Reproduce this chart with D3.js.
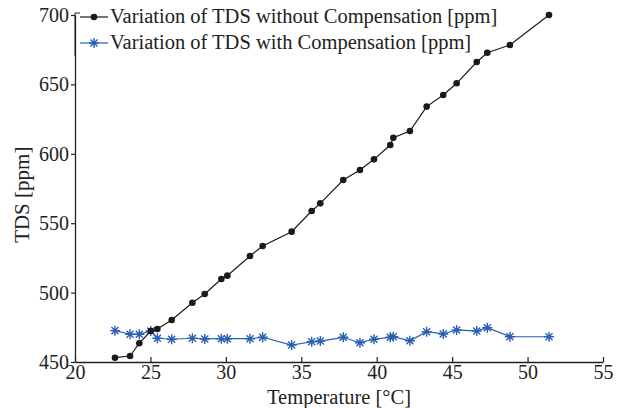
<!DOCTYPE html>
<html>
<head>
<meta charset="utf-8">
<script src="https://cdn.jsdelivr.net/npm/d3@7"></script>
<style>
  body { margin: 0; background: #fff; }
  svg text { font-family: "Liberation Serif", "DejaVu Serif", serif; fill: #222; }
  .line { fill: none; stroke-width: 1.2; }
</style>
</head>
<body>
<div class="container"></div>
<script>
var WIDTH = 623, HEIGHT = 408;
var MARGIN = {top: 15, right: 20, bottom: 46, left: 75};

var temperature = [22.65, 23.65, 24.26, 25.02, 25.46, 26.41, 27.78, 28.6, 29.7, 30.1,
                   31.6, 32.44, 34.36, 35.69, 36.26, 37.78, 38.89, 39.82, 40.9, 41.1,
                   42.2, 43.31, 44.41, 45.3, 46.63, 47.33, 48.83, 51.42];
var tdsWithout = [453.1, 454.3, 463.5, 472.3, 473.8, 480.3, 492.7, 499, 509.8, 512.2,
                  526.4, 533.6, 543.9, 558.8, 564.3, 581.1, 588.3, 596, 606.3, 611.6,
                  616.4, 634, 642.4, 650.8, 666.1, 672.8, 678.4, 700];
var tdsWith = [472.6, 470, 470, 472.3, 467.1, 466.4, 467.1, 466.6, 466.8, 466.8,
               466.8, 467.8, 462.2, 464.6, 465.1, 467.8, 463.9, 466.4, 467.8, 468.2,
               465.3, 471.8, 470.2, 473.1, 472.3, 474.7, 468.2, 468.2];
var xTicks = [20, 25, 30, 35, 40, 45, 50, 55];
var yTicks = [450, 500, 550, 600, 650, 700];
var seriesNames = ["Variation of TDS without Compensation [ppm]",
                   "Variation of TDS with Compensation [ppm]"];

var BLACK = "#1a1a1a", BLUE = "#2a5fb4";

var svg = d3.select('.container').append('svg')
            .attr('width', WIDTH)
            .attr('height', HEIGHT);

var xScale = d3.scaleLinear().domain([20, 55]).range([MARGIN.left, 603]);
var yScale = d3.scaleLinear().domain([450, 700]).range([362, MARGIN.top]);

var line = d3.line()
             .x(function(d){ return xScale(d[0]); })
             .y(function(d){ return yScale(d[1]); });

var star = function(r){
    var p = "";
    for (var i = 0; i < 4; i++) {
        var a = i * Math.PI / 4;
        var dx = r * Math.cos(a), dy = r * Math.sin(a);
        p += "M" + (-dx) + "," + (-dy) + "L" + dx + "," + dy;
    }
    return p;
};

// axes
var xAxis = d3.axisBottom(xScale).tickValues(xTicks).tickSizeInner(-5).tickSizeOuter(0).tickPadding(3);
var gx = svg.append('g').attr('transform', 'translate(0,362)').call(xAxis);
gx.selectAll('text').style('font-size', '20px').attr('dy', '0.72em');

var yAxis = d3.axisLeft(yScale).tickValues(yTicks).tickSizeInner(4).tickSizeOuter(0).tickPadding(2);
var gy = svg.append('g').attr('transform', 'translate(' + MARGIN.left + ',0)').call(yAxis);
gy.selectAll('text').style('font-size', '20px');
svg.selectAll('.domain').attr('stroke', '#222').attr('stroke-width', 1.3);
svg.selectAll('.tick line').attr('stroke', '#222').attr('stroke-width', 1.2);

svg.append('text')
   .attr('x', xScale(37.5)).attr('y', 403.5)
   .attr('text-anchor', 'middle')
   .style('font-size', '20.5px')
   .text('Temperature [°C]');

svg.append('text')
   .attr('transform', 'translate(29,' + yScale(570.5) + ') rotate(-90)')
   .attr('text-anchor', 'middle')
   .style('font-size', '21px')
   .text('TDS [ppm]');

// series
var dataWithout = temperature.map(function(t, i){ return [t, tdsWithout[i]]; });
var dataWith = temperature.map(function(t, i){ return [t, tdsWith[i]]; });

var g = svg.append('g');
g.append('path').attr('d', line(dataWith)).classed('line', true).attr('stroke', BLUE);
g.selectAll('path.star').data(dataWith).enter().append('path')
   .classed('star', true)
   .attr('d', star(5))
   .attr('transform', function(d){ return 'translate(' + xScale(d[0]) + ',' + yScale(d[1]) + ')'; })
   .attr('stroke', BLUE).attr('stroke-width', 1.4);

g.append('path').attr('d', line(dataWithout)).classed('line', true).attr('stroke', BLACK);
g.selectAll('circle.dot').data(dataWithout).enter().append('circle')
   .classed('dot', true)
   .attr('r', 3.3)
   .attr('cx', function(d){ return xScale(d[0]); })
   .attr('cy', function(d){ return yScale(d[1]); })
   .attr('fill', BLACK);

// legend
var leg = svg.append('g');
leg.append('path').attr('d', 'M75,13H80M75,13V56').attr('stroke', '#222').attr('fill', 'none');
var rows = [{y: 17, color: BLACK, name: seriesNames[0]}, {y: 43, color: BLUE, name: seriesNames[1]}];
rows.forEach(function(r, i){
    leg.append('line').attr('x1', 80).attr('x2', 108).attr('y1', r.y).attr('y2', r.y)
       .attr('stroke', r.color).attr('stroke-width', 1.2);
    if (i == 0) {
        leg.append('circle').attr('cx', 94).attr('cy', r.y).attr('r', 3.3).attr('fill', r.color);
    } else {
        leg.append('path').attr('d', star(5)).attr('transform', 'translate(94,' + r.y + ')')
           .attr('stroke', r.color).attr('stroke-width', 1.4);
    }
    leg.append('text').attr('x', 110).attr('y', r.y + 6)
       .style('font-size', '20.5px').text(r.name);
});
</script>
</body>
</html>
